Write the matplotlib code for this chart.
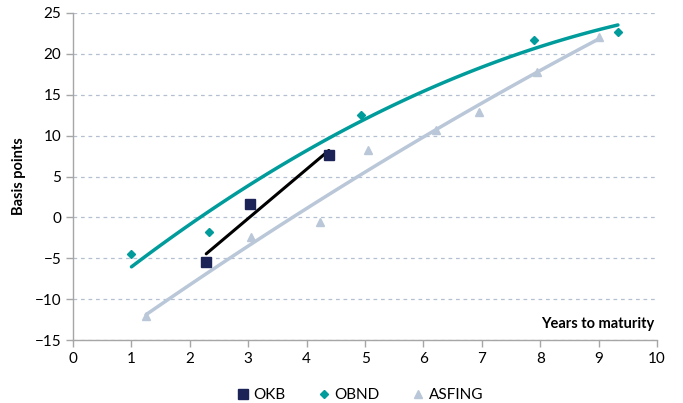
import matplotlib.pyplot as plt
import numpy as np

plt.rcParams['font.family'] = ['Lato', 'DejaVu Sans']

# values
okb_years = [2.28, 3.03, 4.38]
okb_bp = [-5.5, 1.7, 7.6]
obnd_years = [1.0, 2.32, 4.93, 7.9, 9.33]
obnd_bp = [-4.5, -1.8, 12.5, 21.7, 22.7]
asfing_years = [1.25, 3.05, 4.22, 5.05, 6.22, 6.95, 7.95, 9.0]
asfing_bp = [-12.0, -2.4, -0.5, 8.3, 10.7, 12.9, 17.8, 22.0]

c_okb = '#1b2357'
c_obnd = '#009b9b'
c_asfing = '#b9c7d8'
c_axis = '#a6a6a6'


def trend(ax, xs, ys, deg, color, lw):
    coef = np.polyfit(xs, ys, deg)
    xx = np.linspace(min(xs), max(xs), 100)
    ax.plot(xx, np.polyval(coef, xx), color=color, lw=lw, zorder=2,
            solid_capstyle='round')


def main():
    fig = plt.figure(figsize=(6.83, 4.03), dpi=100)
    ax = fig.add_axes([0.107, 0.156, 0.855, 0.812])

    trend(ax, asfing_years, asfing_bp, 2, c_asfing, 2.5)
    trend(ax, obnd_years, obnd_bp, 2, c_obnd, 2.5)
    trend(ax, okb_years, okb_bp, 1, 'black', 2.2)

    ax.plot(okb_years, okb_bp, 's', color=c_okb, ms=7, label='OKB', zorder=3)
    ax.plot(obnd_years, obnd_bp, 'D', color=c_obnd, ms=4.5, label='OBND', zorder=3)
    ax.plot(asfing_years, asfing_bp, '^', color=c_asfing, ms=5.5, label='ASFING', zorder=3)

    ax.set_xlim(0, 10)
    ax.set_ylim(-15, 25)
    ax.set_xticks(range(0, 11))
    ax.set_yticks(range(-15, 26, 5))
    ax.yaxis.grid(True, ls=(0, (3, 3)), color='#b4c0d2', lw=0.9)
    ax.set_axisbelow(True)

    for s in ['top', 'right']:
        ax.spines[s].set_visible(False)
    for s in ['left', 'bottom']:
        ax.spines[s].set_color(c_axis)
        ax.spines[s].set_linewidth(1.0)
    ax.tick_params(axis='both', colors=c_axis, labelcolor='black',
                   labelsize=11, length=5, width=1.0)

    ax.set_ylabel('Basis points', fontsize=10.5, fontweight='bold', labelpad=6)
    ax.text(9.95, -13.0, 'Years to maturity', ha='right', va='center',
            fontsize=10.5, fontweight='bold')

    ax.legend(loc='upper center', bbox_to_anchor=(0.49, -0.105), ncol=3,
              frameon=False, fontsize=11, handletextpad=0.2,
              columnspacing=2.0, handlelength=1.0)

    fig.savefig('out.png', dpi=100)


if __name__ == '__main__':
    main()
